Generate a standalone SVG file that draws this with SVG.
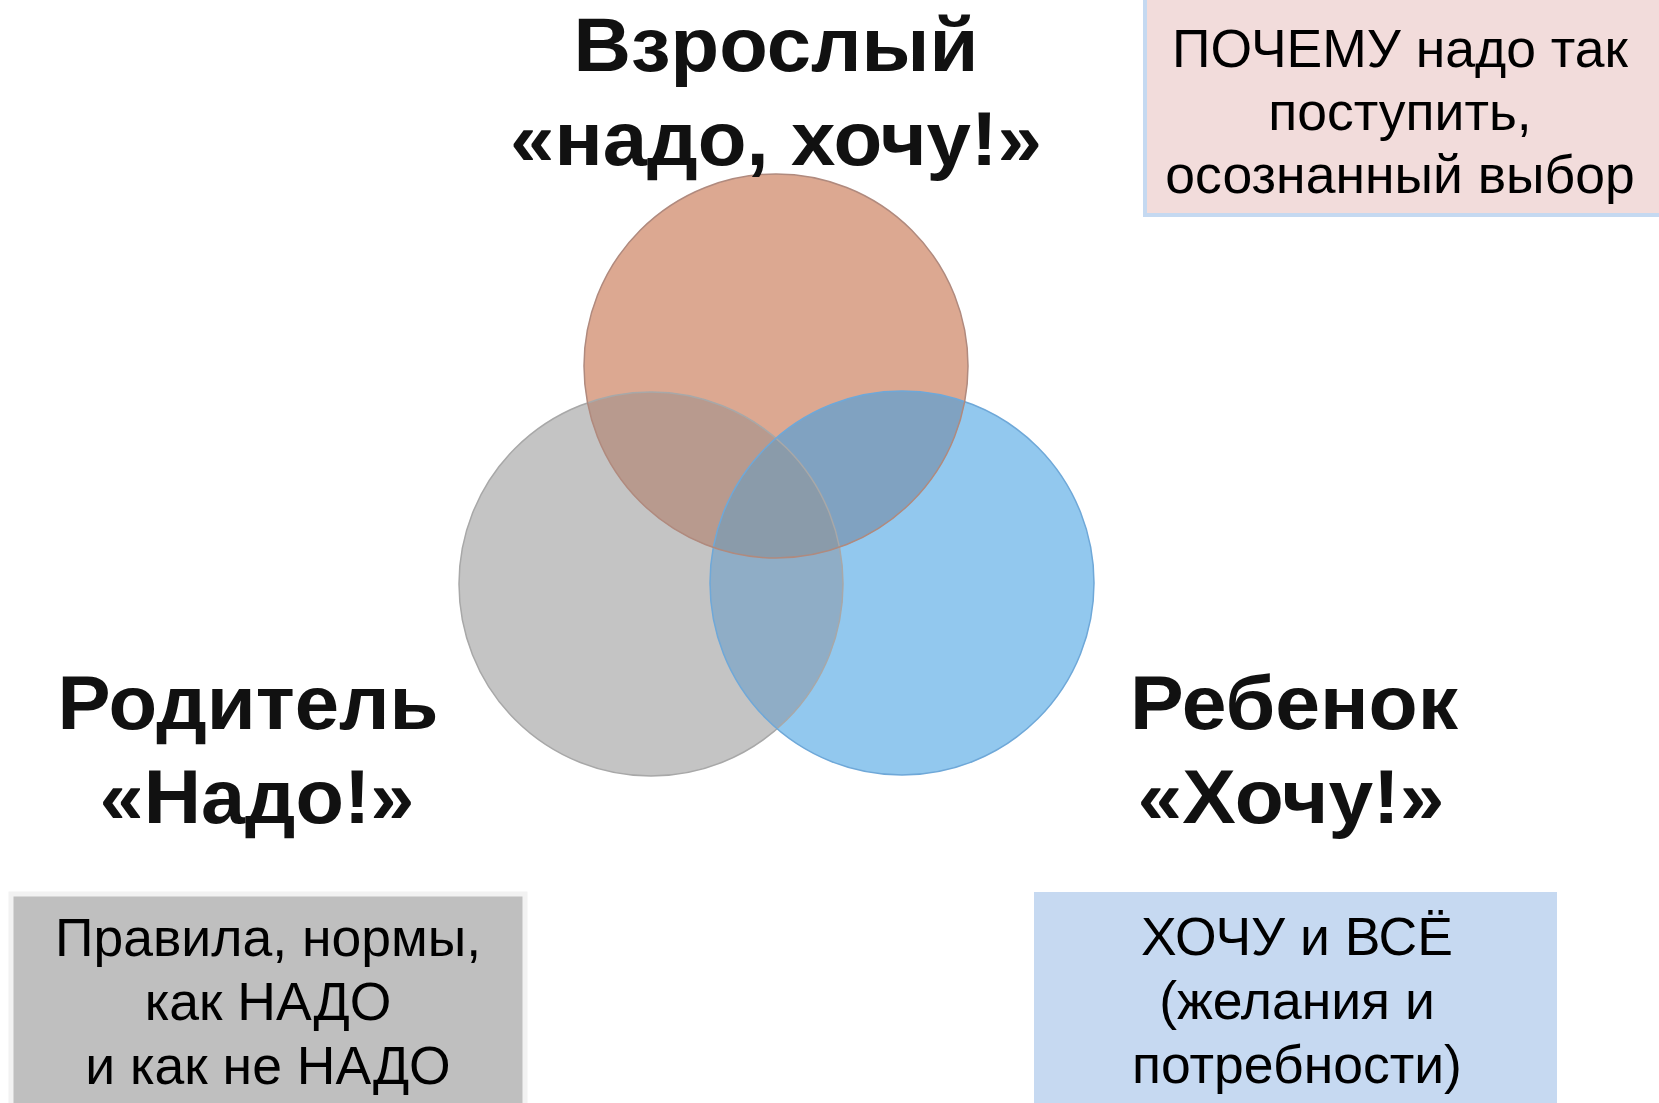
<svg xmlns="http://www.w3.org/2000/svg" width="1659" height="1103" viewBox="0 0 1659 1103">
<style>
.lbl{font-family:"Liberation Sans",Arial,sans-serif;font-weight:bold;font-size:76px;fill:#111;text-anchor:middle}
.box{font-family:"Liberation Sans",Arial,sans-serif;font-size:53.5px;fill:#000;text-anchor:middle}
.edge{fill:none;stroke-width:1.5}
</style>
<defs>
<clipPath id="cO"><circle cx="776" cy="366" r="192"/></clipPath>
<clipPath id="cG"><circle cx="651" cy="584" r="192"/></clipPath>
</defs>
<rect width="1659" height="1103" fill="#fff"/>
<g id="circles">
<g id="parent-circle"><circle cx="651" cy="584" r="192" fill="#c4c4c4"/></g>
<g id="child-circle"><circle cx="902" cy="583" r="192" fill="#92c8ee"/></g>
<g id="adult-circle"><circle cx="776" cy="366" r="192" fill="#dca891"/></g>
<circle cx="651" cy="584" r="192" fill="#b89a8e" clip-path="url(#cO)"/>
<circle cx="902" cy="583" r="192" fill="#80a2c1" clip-path="url(#cO)"/>
<circle cx="902" cy="583" r="192" fill="#8fadc6" clip-path="url(#cG)"/>
<g clip-path="url(#cG)"><circle cx="902" cy="583" r="192" fill="#8a9baa" clip-path="url(#cO)"/></g>
<circle class="edge" cx="651" cy="584" r="192" stroke="#a8a8a8"/>
<circle class="edge" cx="902" cy="583" r="192" stroke="#6fa8d8"/>
<circle class="edge" cx="776" cy="366" r="192" stroke="#b08a7e"/>
</g>
<g id="adult-label">
<text class="lbl" x="776" y="71" textLength="405" lengthAdjust="spacingAndGlyphs">Взрослый</text>
<text class="lbl" x="776" y="165" textLength="532" lengthAdjust="spacingAndGlyphs">«надо, хочу!»</text>
</g>
<g id="parent-label">
<text class="lbl" x="248" y="729" textLength="381" lengthAdjust="spacingAndGlyphs">Родитель</text>
<text class="lbl" x="257" y="823" textLength="315" lengthAdjust="spacingAndGlyphs">«Надо!»</text>
</g>
<g id="child-label">
<text class="lbl" x="1294" y="729" textLength="328" lengthAdjust="spacingAndGlyphs">Ребенок</text>
<text class="lbl" x="1291" y="823" textLength="307" lengthAdjust="spacingAndGlyphs">«Хочу!»</text>
</g>
<g id="adult-box">
<rect x="1145" y="-4" width="520" height="219" fill="#f2dcdb" stroke="#c5d9f1" stroke-width="4"/>
<text class="box" x="1400" y="67">ПОЧЕМУ надо так</text>
<text class="box" x="1400" y="130">поступить,</text>
<text class="box" x="1400" y="193">осознанный выбор</text>
</g>
<g id="parent-box">
<rect x="11" y="894" width="514" height="215" fill="#bfbfbf" stroke="#f2f2f2" stroke-width="5"/>
<text class="box" x="268" y="956">Правила, нормы,</text>
<text class="box" x="268" y="1020">как НАДО</text>
<text class="box" x="268" y="1084">и как не НАДО</text>
</g>
<g id="child-box">
<rect x="1034" y="892" width="523" height="215" fill="#c6d9f1"/>
<text class="box" x="1297" y="955">ХОЧУ и ВСЁ</text>
<text class="box" x="1297" y="1019">(желания и</text>
<text class="box" x="1297" y="1083">потребности)</text>
</g>
</svg>
